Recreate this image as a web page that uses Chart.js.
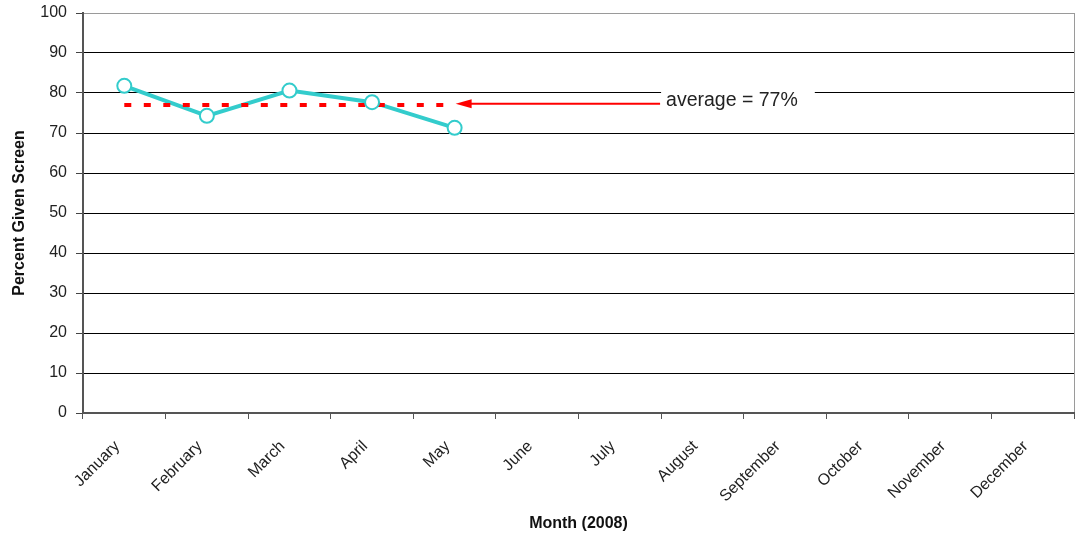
<!DOCTYPE html>
<html>
<head>
<meta charset="utf-8">
<script src="https://cdn.jsdelivr.net/npm/chart.js@4.4.1/dist/chart.umd.min.js"></script>
<style>
  html, body { margin: 0; padding: 0; background: #ffffff; }
  #wrap { width: 1083px; height: 537px; position: relative; }
</style>
</head>
<body>
<div id="wrap"><canvas id="chart"></canvas></div>
<script>
// ---- data ----
const months = ['January', 'February', 'March', 'April', 'May', 'June', 'July',
                'August', 'September', 'October', 'November', 'December'];
const percentGivenScreen = [81.8, 74.3, 80.6, 77.7, 71.3, null, null, null, null, null, null, null];
const averageLine = [77, 77, 77, 77, 77, null, null, null, null, null, null, null];
const averageLabel = 'average = 77%';
const arrowValue = 77.3;        // y value of annotation arrow
const arrowTipCategory = 4;     // arrow points at May
const labelCategoryPos = 6.5;   // annotation text box starts between July and August
const yMin = 0, yMax = 100, yStep = 10;
const yTitle = 'Percent Given Screen';
const xTitle = 'Month (2008)';

const FONT = '"Liberation Sans", Arial, sans-serif';

const annotationPlugin = {
  id: 'avgAnnotation',
  afterDatasetsDraw(chart) {
    const { ctx, scales: { x, y } } = chart;
    const yA = y.getPixelForValue(arrowValue);
    const tipX = x.getPixelForValue(arrowTipCategory);
    const boxX = x.getPixelForValue(labelCategoryPos);
    ctx.save();
    ctx.font = '19.5px ' + FONT;
    const tw = ctx.measureText(averageLabel).width;
    ctx.fillStyle = '#ffffff';
    ctx.fillRect(boxX, yA - 15, tw + 22, 26);
    ctx.strokeStyle = '#ff0000';
    ctx.lineWidth = 2;
    ctx.beginPath();
    ctx.moveTo(boxX - 1, yA);
    ctx.lineTo(tipX + 14, yA);
    ctx.stroke();
    ctx.fillStyle = '#ff0000';
    ctx.beginPath();
    ctx.moveTo(tipX + 1, yA);
    ctx.lineTo(tipX + 17, yA - 4.5);
    ctx.lineTo(tipX + 17, yA + 4.5);
    ctx.closePath();
    ctx.fill();
    ctx.fillStyle = '#222222';
    ctx.textBaseline = 'alphabetic';
    ctx.textAlign = 'left';
    ctx.fillText(averageLabel, boxX + 5, yA + 2.5);
    ctx.restore();
  }
};

new Chart(document.getElementById('chart'), {
  type: 'line',
  data: {
    labels: months,
    datasets: [
      {
        label: 'markers',
        data: percentGivenScreen,
        showLine: false,
        pointRadius: 7,
        pointBorderWidth: 2,
        pointBackgroundColor: '#ffffff',
        pointBorderColor: '#33cccc',
        borderColor: '#33cccc',
        backgroundColor: '#ffffff'
      },
      {
        label: 'average',
        data: averageLine,
        borderColor: '#ff0000',
        borderWidth: 4,
        borderDash: [7, 12.5],
        borderCapStyle: 'butt',
        pointRadius: 0,
        fill: false,
        tension: 0
      },
      {
        label: 'line',
        data: percentGivenScreen,
        borderColor: '#33cccc',
        borderWidth: 4,
        pointRadius: 0,
        fill: false,
        tension: 0,
        spanGaps: false
      }
    ]
  },
  options: {
    responsive: true,
    maintainAspectRatio: false,
    animation: false,
    layout: { padding: { top: 0, right: 7, left: 0, bottom: 0 } },
    plugins: {
      legend: { display: false },
      tooltip: { enabled: false }
    },
    scales: {
      x: {
        offset: true,
        grid: {
          offset: true,
          drawOnChartArea: true,
          color: (ctx) => ctx.type === 'scale' ? '#9a9a9a' : 'rgba(0,0,0,0)',
          tickColor: '#555555',
          tickLength: 6,
          lineWidth: 1
        },
        border: { display: true, color: '#555555', width: 2 },
        ticks: {
          minRotation: 45,
          maxRotation: 45,
          autoSkip: false,
          padding: 18,
          labelOffset: -7,
          color: '#222222',
          font: { family: FONT, size: 16 }
        },
        title: {
          display: true,
          text: xTitle,
          color: '#111111',
          font: { family: FONT, size: 16, weight: 'bold' },
          padding: { top: 0, bottom: 4 }
        },
        afterFit: (scale) => { scale.height = 124; }
      },
      y: {
        min: yMin,
        max: yMax,
        ticks: {
          stepSize: yStep,
          padding: 9,
          color: '#222222',
          font: { family: FONT, size: 16 }
        },
        grid: {
          color: (ctx) => (ctx.tick && ctx.tick.value === yMax) ? '#9a9a9a' : '#000000',
          tickColor: '#444444',
          tickLength: 7,
          lineWidth: 1
        },
        border: { display: true, color: '#555555', width: 2 },
        title: {
          display: true,
          text: yTitle,
          color: '#111111',
          font: { family: FONT, size: 16, weight: 'bold' },
          padding: { top: 10, bottom: 0 }
        },
        afterFit: (scale) => { scale.width = 83; scale.paddingTop = 13; scale.paddingBottom = 0; }
      }
    }
  },
  plugins: [annotationPlugin]
});
</script>
</body>
</html>
